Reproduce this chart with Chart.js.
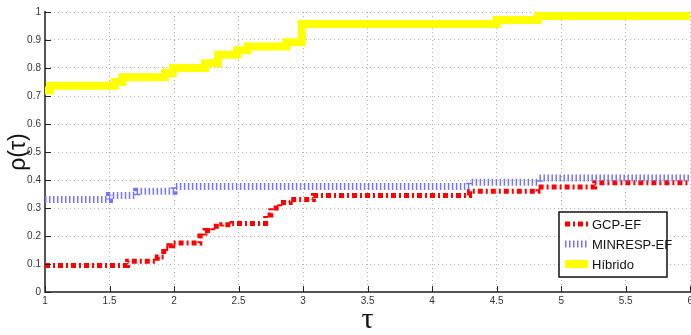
<!DOCTYPE html>
<html>
<head>
<meta charset="utf-8">
<script src="https://cdn.jsdelivr.net/npm/chart.js@4"></script>
<style>
  html, body { margin: 0; padding: 0; background: #fff; overflow: hidden; }
  #wrap { width: 696px; height: 335px; position: relative; }
</style>
</head>
<body>
<div id="wrap"><canvas id="chart"></canvas></div>
<script>
// step breakpoints (tau, rho); each level holds until the next tau
const gcpX = [1, 1.64, 1.87, 1.92, 1.96, 1.99, 2.2, 2.24, 2.3, 2.37, 2.45, 2.71, 2.75, 2.82, 2.9, 3.08, 4.29, 4.82, 5.26, 6];
const gcpY = [0.095, 0.11, 0.125, 0.155, 0.165, 0.175, 0.2, 0.22, 0.235, 0.24, 0.245, 0.275, 0.3, 0.32, 0.33, 0.345, 0.36, 0.375, 0.39, 0.39];

const minrespX = [1, 1.5, 1.71, 2.0, 4.29, 4.83, 6];
const minrespY = [0.33, 0.345, 0.36, 0.377, 0.392, 0.407, 0.407];

const hibridoX = [1, 1.04, 1.54, 1.6, 1.93, 1.99, 2.24, 2.34, 2.49, 2.57, 2.87, 2.99, 4.5, 4.82, 6];
const hibridoY = [0.72, 0.737, 0.75, 0.767, 0.782, 0.80, 0.817, 0.847, 0.863, 0.877, 0.892, 0.957, 0.971, 0.986, 0.986];

const xTicks = [1, 1.5, 2, 2.5, 3, 3.5, 4, 4.5, 5, 5.5, 6];
const yTicks = [0, 0.1, 0.2, 0.3, 0.4, 0.5, 0.6, 0.7, 0.8, 0.9, 1];

const seriesLabels = ["GCP-EF", "MINRESP-EF", "Híbrido"];

const toPts = (xs, ys) => xs.map((x, i) => ({ x, y: ys[i] }));
const fmt = v => String(+v.toFixed(1));

const styles = [
  { color: "#ff0000", width: 5, dash: [5, 3, 2, 3] },
  { color: "#7373ff", width: 7, dash: [1.5, 2.5] },
  { color: "#ffff00", width: 8, dash: [] },
];

const datasets = [
  { label: seriesLabels[2], data: toPts(hibridoX, hibridoY), ...styles[2] },
  { label: seriesLabels[1], data: toPts(minrespX, minrespY), ...styles[1] },
  { label: seriesLabels[0], data: toPts(gcpX, gcpY), ...styles[0] },
].map(d => ({
  label: d.label, data: d.data, stepped: true, borderColor: d.color, borderWidth: d.width,
  borderDash: d.dash, borderCapStyle: "butt", pointRadius: 0, fill: false, tension: 0,
}));

// inward tick marks like matlab
const innerTicks = {
  id: "innerTicks",
  afterDraw(chart) {
    const { ctx, chartArea: a, scales } = chart;
    ctx.save();
    ctx.strokeStyle = "#222";
    ctx.lineWidth = 1;
    ctx.beginPath();
    xTicks.forEach(t => {
      const px = Math.round(scales.x.getPixelForValue(t)) + 0.5;
      ctx.moveTo(px, a.bottom); ctx.lineTo(px, a.bottom - 6);
    });
    yTicks.forEach(t => {
      const py = Math.round(scales.y.getPixelForValue(t)) + 0.5;
      ctx.moveTo(a.left, py); ctx.lineTo(a.left + 6, py);
    });
    ctx.stroke();
    ctx.restore();
  },
};

// legend box inside the plot, lower right
const boxLegend = {
  id: "boxLegend",
  afterDraw(chart) {
    const { ctx } = chart;
    const x0 = 559, y0 = 212, w = 108, h = 65;
    ctx.save();
    ctx.fillStyle = "#fff";
    ctx.fillRect(x0, y0, w, h);
    ctx.strokeStyle = "#111";
    ctx.lineWidth = 1.5;
    ctx.strokeRect(x0, y0, w, h);
    const rows = [224, 244, 264];
    [0, 1, 2].forEach(i => {
      const s = styles[i];
      ctx.beginPath();
      ctx.strokeStyle = s.color;
      ctx.lineWidth = s.width;
      ctx.lineCap = "butt";
      ctx.setLineDash(s.dash);
      ctx.moveTo(565, rows[i]); ctx.lineTo(588, rows[i]);
      ctx.stroke();
      ctx.setLineDash([]);
      ctx.fillStyle = "#111";
      ctx.font = "13px 'Liberation Sans', Arial, sans-serif";
      ctx.textBaseline = "middle";
      ctx.fillText(seriesLabels[i], 592, rows[i] + 1);
    });
    ctx.restore();
  },
};

const tickFont = { family: "'Liberation Sans', Arial, sans-serif", size: 10 };

new Chart(document.getElementById("chart"), {
  type: "line",
  data: { datasets },
  options: {
    responsive: true,
    maintainAspectRatio: false,
    animation: false,
    layout: { padding: { top: 12, right: 0, left: 0, bottom: 0 } },
    plugins: { legend: { display: false }, tooltip: { enabled: false } },
    scales: {
      x: {
        type: "linear", min: 1, max: 6,
        afterBuildTicks: s => { s.ticks = xTicks.map(v => ({ value: v })); },
        afterFit: s => { s.height = 43; },
        ticks: { color: "#333", font: tickFont, padding: 3, maxRotation: 0, callback: fmt },
        grid: { color: "#b0b0b0", drawTicks: false },
        border: { color: "#555", width: 2, dash: [1, 3] },
        title: { display: true, text: "τ", color: "#111", font: { family: "'Liberation Serif', serif", size: 30, lineHeight: 1 }, padding: { top: 0, bottom: 0 } },
      },
      y: {
        type: "linear", min: 0, max: 1,
        afterBuildTicks: s => { s.ticks = yTicks.map(v => ({ value: v })); },
        afterFit: s => { s.width = 45; },
        ticks: { color: "#333", font: tickFont, padding: 4, callback: fmt },
        grid: { color: "#b0b0b0", drawTicks: false },
        border: { color: "#555", width: 2, dash: [1, 3] },
        title: { display: true, text: "ρ(τ)", color: "#111", font: { family: "'Liberation Sans', Arial, sans-serif", size: 23, lineHeight: 1 }, padding: { top: 7, bottom: 0 } },
      },
    },
  },
  plugins: [innerTicks, boxLegend],
});
</script>
</body>
</html>
